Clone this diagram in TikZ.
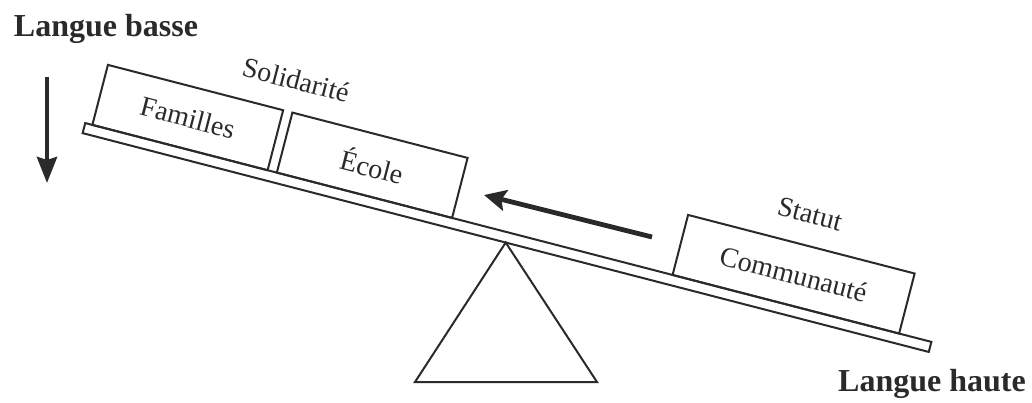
\documentclass[tikz,border=0pt]{standalone}
\usepackage{fontspec}
\setmainfont{Liberation Serif}
\usetikzlibrary{arrows.meta,positioning,calc}
\definecolor{ink}{HTML}{2A2A2A}

\begin{document}
\begin{tikzpicture}[
  x=0.5pt, y=-0.5pt,
  draw=ink, text=ink, line width=1pt,
  plank/.style={draw, rotate=-14.5, minimum width=437pt, minimum height=5.2pt, inner sep=0pt, outer sep=0pt},
  weight/.style={draw, rotate=-14.5, anchor=south, minimum height=31pt, inner sep=0pt, outer sep=0pt, font=\fontsize{14}{16}\selectfont},
  lbl/.style={rotate=-14.5, font=\fontsize{14}{16}\selectfont},
  side/.style={font=\fontsize{16}{19}\selectfont\bfseries},
  fall/.style={line width=2.2pt, -{Stealth[length=13pt,width=10pt,inset=1.5pt]}},
  push/.style={line width=2.4pt, -{Stealth[length=11pt,width=10.5pt,inset=2pt]}}
]
\useasboundingbox (0,0) rectangle (1032,402);
% balance
\node[plank] (plank) at (507,237.5) {};
\coordinate (baseL) at (415,382);
\coordinate (baseR) at (597,382);
\draw (plank.south) -- (baseL) -- (baseR) -- cycle;
% weights on the plank
\node[weight, minimum width=90.5pt] (familles) at ($(plank.north west)!0.112!(plank.north east)$) {Familles};
\node[weight, minimum width=90.5pt] (ecole) at ($(plank.north west)!0.33!(plank.north east)$) {École};
\node[weight, minimum width=117pt] (commu) at ($(plank.north west)!0.828!(plank.north east)$) {Communauté};
\node[lbl] (solid) at (296,80) {Solidarité};
\node[lbl] (statut) at (810,214) {Statut};
% sides
\node[side] (basse) at (106,29) {Langue basse};
\node[side] (haute) at (932,384) {Langue haute};
\coordinate (dtop) at (47,77);
\coordinate (dbot) at (47,183);
\draw[fall] (dtop) -- (dbot);
\coordinate (ptail) at (652,237);
\coordinate (phead) at (484,195);
\draw[push] (ptail) -- (phead);
\end{tikzpicture}
\end{document}
